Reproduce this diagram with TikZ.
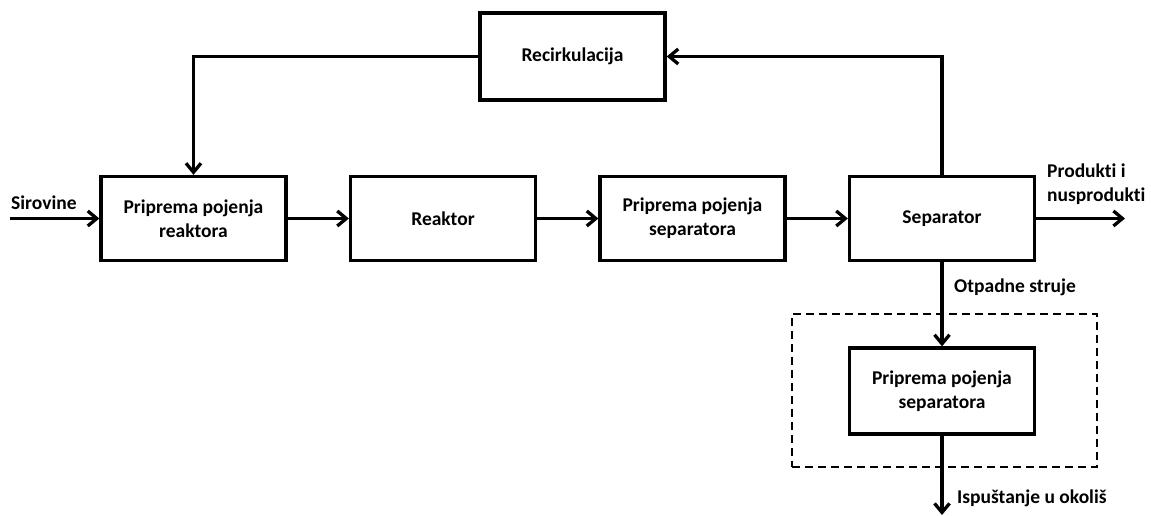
\documentclass[tikz,border=0pt]{standalone}
\usepackage{fontspec}
\setmainfont{Carlito}[Ligatures=NoCommon]
\usetikzlibrary{arrows.meta}
\begin{document}
\begin{tikzpicture}[x=1bp,y=-1bp,
  font=\fontsize{19.5bp}{24bp}\selectfont\bfseries,
  blok/.style={draw,line width=3.3bp,minimum width=185bp,minimum height=84bp,align=center,inner sep=0pt},
  tok/.style={line width=3.3bp,-{Straight Barb[length=9bp,width=15bp,line width=3.3bp]}},
  oznaka/.style={inner sep=0pt,align=left}]
\useasboundingbox (0,0) rectangle (1151,516);
\node[blok] (b1) at (193.5,218.5) {Priprema pojenja\\reaktora};
\node[blok] (b2) at (443,218.5) {Reaktor};
\node[blok] (b3) at (692.5,218.5) {Priprema pojenja\\separatora};
\node[blok] (sep) at (942,218.5) {Separator};
\node[blok,minimum height=87bp] (rec) at (572.5,56.5) {Recirkulacija};
\node[blok,minimum height=86bp] (b5) at (942,391) {Priprema pojenja\\separatora};
\node[draw,line width=2bp,dash pattern=on 8bp off 5bp,minimum width=305bp,minimum height=153bp,inner sep=0pt] (okvir) at (944.5,390.5) {};
\coordinate (ulaz) at (10,218.5);
\coordinate (izlaz) at (1125,218.5);
\coordinate (okolis) at (942,515);
\draw[tok] (ulaz) -- (b1.west);
\draw[tok] (b1.east) -- (b2.west);
\draw[tok] (b2.east) -- (b3.west);
\draw[tok] (b3.east) -- (sep.west);
\draw[tok] (sep.east) -- (izlaz);
\draw[tok] (sep.north) |- (rec.east);
\draw[tok] (rec.west) -| (b1.north);
\draw[tok] (sep.south) -- (b5.north);
\draw[tok] (b5.south) -- (okolis);
\node[oznaka,anchor=base west] (lsir) at (11,210) {Sirovine};
\node[oznaka,anchor=base west] (lprod) at (1047,202) {Produkti i\\nusprodukti};
\node[oznaka,anchor=base west] (lotp) at (954,293) {Otpadne struje};
\node[oznaka,anchor=base west] (lisp) at (957,503) {Ispuštanje u okoliš};
\end{tikzpicture}
\end{document}
